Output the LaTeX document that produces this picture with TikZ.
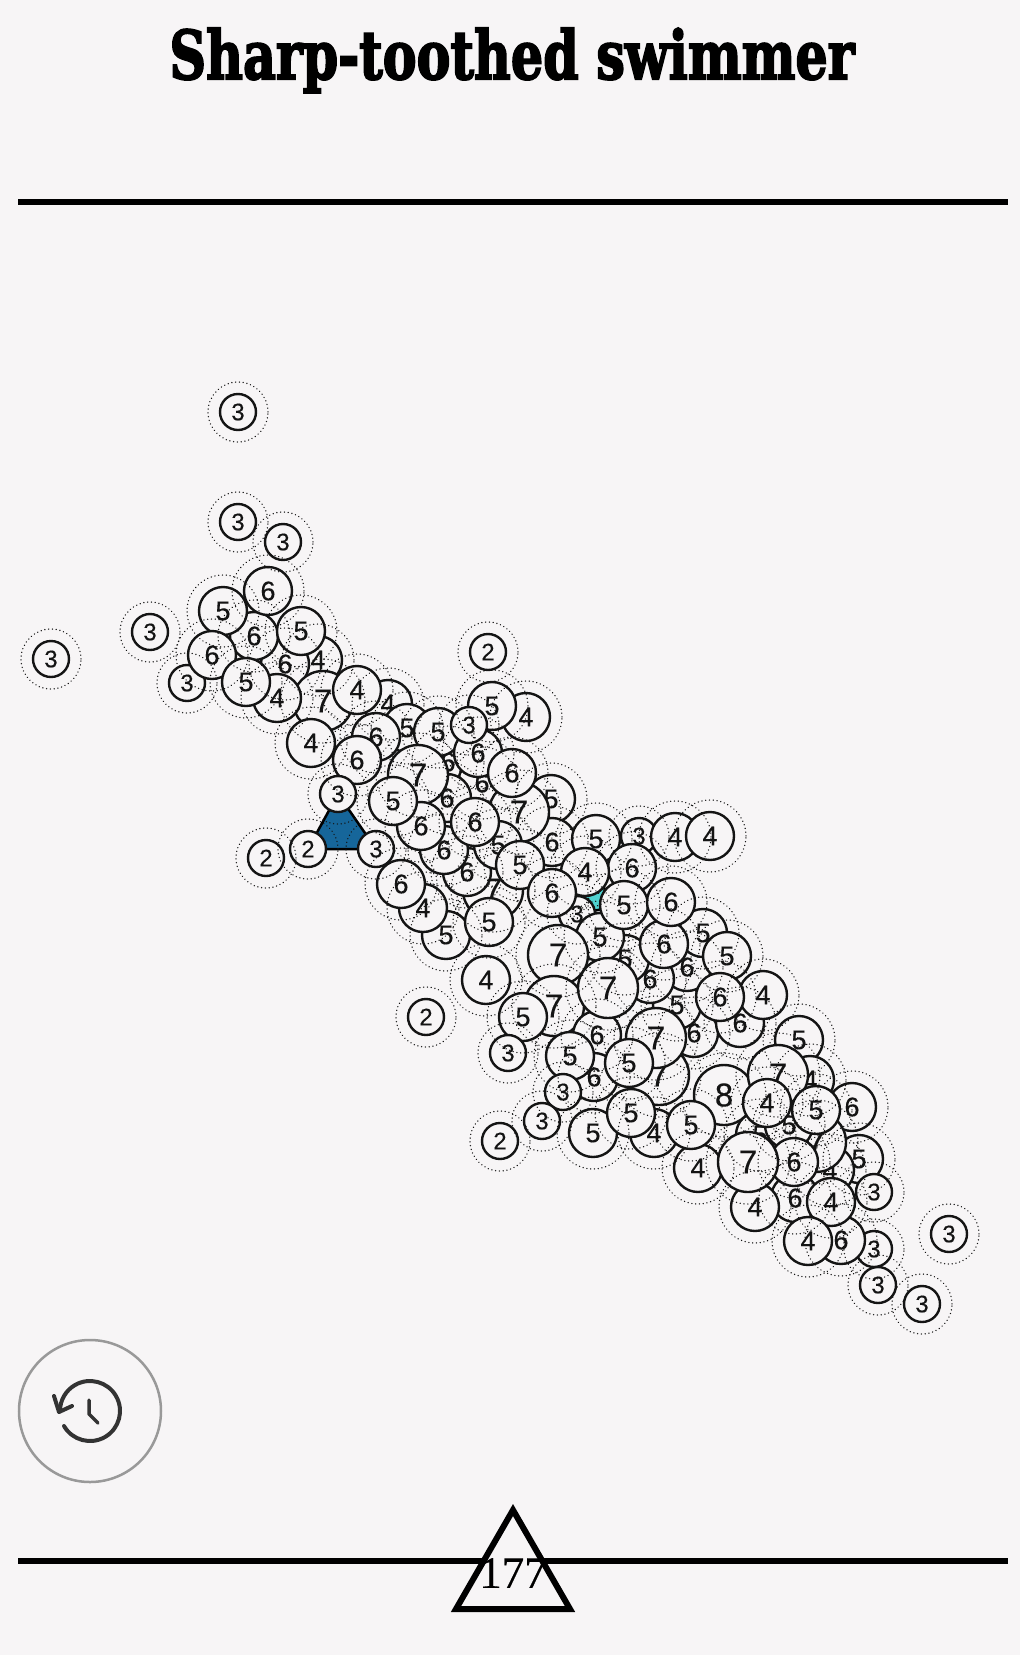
\documentclass[tikz,border=0pt]{standalone}
\usepackage{fontspec}
\setmainfont[FakeBold=0.25]{Liberation Sans}
\newfontfamily\titlefont[FakeBold=3]{DejaVu Serif Bold}
\newfontfamily\countfont[FakeBold=0.3]{Liberation Serif}
\definecolor{pagebg}{HTML}{F7F5F6}
\definecolor{ink}{HTML}{141414}
\definecolor{deepblue}{HTML}{16669A}
\definecolor{aqua}{HTML}{4FD2D0}
\definecolor{ringgrey}{HTML}{999999}
\definecolor{icongrey}{HTML}{333333}
\tikzset{
  bubcore/.style={circle,draw=ink,fill=pagebg,line width=2.4pt,inner sep=0pt,outer sep=0pt,text=ink},
  bub2/.style={bubcore,minimum size=36pt,font=\fontsize{24}{24}\selectfont},
  bub3/.style={bub2},
  bub4/.style={bubcore,minimum size=48pt,font=\fontsize{27}{27}\selectfont},
  bub5/.style={bub4},
  bub6/.style={bub4},
  bub7/.style={bubcore,minimum size=60pt,font=\fontsize{33}{33}\selectfont},
  bub8/.style={bub7},
  halo/.style={draw=ink,line width=1.4pt,line cap=round,dash pattern=on 0.1pt off 3.7pt,fill=none},
  halo2/.style={halo,radius=30pt},
  halo3/.style={halo2},
  halo4/.style={halo,radius=36pt},
  halo5/.style={halo4},
  halo6/.style={halo4},
  halo7/.style={halo,radius=42pt},
  halo8/.style={halo7},
  rule/.style={draw=black,line width=6pt},
  facet/.style={draw=black,line width=2.5pt,line join=miter},
  iconline/.style={draw=icongrey,line width=4pt,line cap=round,line join=round},
}
\def\bubs{
238/412/3,238/522/3,283/542/3,51/659/3,150/632/3,488/652/2,
318/660/4,285/664/6,254/636/6,223/611/5,268/591/6,301/631/5,187/683/3,212/655/6,
323/701/7,277/698/4,246/682/5,388/704/4,357/690/4,407/728/5,
526/717/4,492/706/5,448/762/6,438/732/5,482/783/6,478/753/6,469/725/3,376/737/6,311/743/4,357/760/6,
551/799/5,552/842/6,519/812/7,512/773/6,
447/798/6,418/775/7,493/890/7,467/872/6,498/845/5,444/850/6,475/822/6,421/826/6,393/801/5,
338/794/3,266/858/2,308/849/2,376/849/3,446/935/5,423/908/4,401/884/6,489/922/5,520/865/5,
596/839/5,639/836/3,675/837/4,710/836/4,632/868/6,577/914/3,585/872/4,552/893/6,
694/1033/6,677/1005/5,687/967/6,650/979/6,625/959/5,703/933/5,664/944/6,727/956/5,
600/937/5,624/905/5,671/902/6,
740/1023/6,763/995/4,720/997/6,558/955/7,554/1006/7,523/1017/5,486/980/4,426/1017/2,
597/1035/6,608/988/7,659/1075/7,656/1038/7,594/1077/6,629/1063/5,570/1056/5,563/1092/3,508/1053/3,542/1121/3,500/1141/2,
593/1133/5,654/1133/4,631/1113/5,
698/1168/4,760/1135/5,724/1095/8,691/1125/5,
799/1040/5,810/1080/4,778/1075/7,852/1107/6,859/1159/5,830/1170/4,816/1142/7,789/1125/5,816/1110/5,767/1103/4,
874/1249/3,841/1240/6,795/1198/6,831/1202/4,794/1162/6,755/1207/4,748/1162/7,808/1241/4,
874/1192/3,878/1285/3,922/1304/3,949/1234/3}
\begin{document}
\begin{tikzpicture}[x=1pt,y=-1pt]
\path[use as bounding box,fill=pagebg] (0,0) rectangle (1020,1655);
% title
\node[anchor=base,inner sep=0pt] (title) at (512,79) {\resizebox{685pt}{51pt}{\titlefont Sharp-toothed swimmer}};
% rules
\coordinate (topL) at (18,201.5); \coordinate (topR) at (1008,201.5);
\coordinate (botL) at (18,1561); \coordinate (botR) at (1008,1561);
\draw[rule] (topL) -- (topR);
\draw[rule] (botL) -- (botR);
% coloured facets
\coordinate (a1) at (338,794); \coordinate (a2) at (308,849); \coordinate (a3) at (376,849);
\draw[facet,fill=deepblue] (a1) -- (a2) -- (a3) -- cycle;
\coordinate (c1) at (585,872); \coordinate (c2) at (577,914); \coordinate (c3) at (624,905);
\draw[facet,fill=aqua] (c1) -- (c2) -- (c3) -- cycle;
% bubbles
\foreach \x/\y/\d [count=\i] in \bubs {
  \node[style=bub\d] (b\i) at (\x,\y) {\d};
}
% halos on top
\foreach \x/\y/\d [count=\i] in \bubs {
  \path[style=halo\d] (b\i.center) circle;
}
% history button
\node[circle,draw=ringgrey,line width=2.5pt,minimum size=142pt,inner sep=0pt,outer sep=0pt] (btn) at (90,1411) {};
\coordinate (clockC) at (90,1411);
\draw[iconline] ([shift={(210:30pt)}]clockC) arc[start angle=210,end angle=540,radius=30pt];
\coordinate (ar1) at (54,1396); \coordinate (ar2) at (59,1412); \coordinate (ar3) at (72,1406);
\draw[iconline] (ar1) -- (ar2) -- (ar3);
\coordinate (h1) at (89,1400); \coordinate (h2) at (89,1414); \coordinate (h3) at (98,1423);
\draw[iconline,line width=3.5pt] (h1) -- (h2) -- (h3);
% counter
\coordinate (t1) at (513,1510); \coordinate (t2) at (456,1609); \coordinate (t3) at (570,1609);
\draw[draw=black,line width=6pt,fill=pagebg,line join=miter] (t1) -- (t2) -- (t3) -- cycle;
\node[inner sep=0pt,text=black,font=\countfont\fontsize{45}{45}\selectfont] (count) at (513,1573) {177};
\end{tikzpicture}
\end{document}
